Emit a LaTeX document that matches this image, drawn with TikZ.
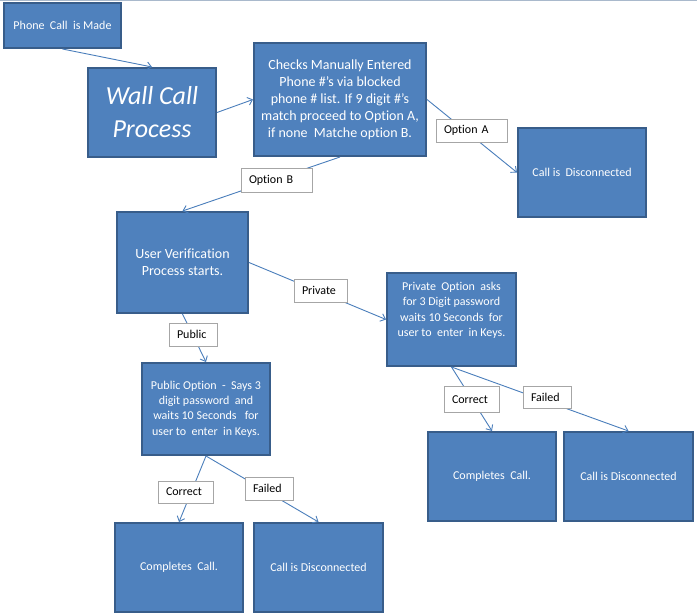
\documentclass[tikz,border=0pt]{standalone}
\usepackage{fontspec}
\setmainfont[Ligatures=NoCommon]{Carlito}
\usetikzlibrary{arrows.meta}
\definecolor{boxfill}{HTML}{4F81BD}
\definecolor{boxline}{HTML}{385D8A}
\definecolor{conn}{HTML}{4A7EBB}
\definecolor{lblline}{HTML}{A6A6A6}
\definecolor{topline}{HTML}{A9B9CC}
\newcommand{\wsp}{\hspace{0.45em}}
\tikzset{
  bluebox/.style={draw=boxline, line width=2pt, fill=boxfill, text=white,
    align=center, inner sep=2pt, font=\fontsize{12}{15.3}\selectfont},
  bigtext/.style={font=\fontsize{14}{17}\selectfont},
  lbl/.style={draw=lblline, line width=0.8pt, fill=white, text=black,
    align=left, inner xsep=8pt, inner ysep=0pt, font=\fontsize{12}{14}\selectfont},
  conn/.style={draw=conn, line width=0.9pt, -{Straight Barb[length=4.5pt,width=8pt]}}
}
\begin{document}
\begin{tikzpicture}[x=1pt,y=-1pt]
\useasboundingbox[fill=white] (0,0) rectangle (697,615);
\draw[topline, line width=1.5pt] (0,0.75) -- (697,0.75);
% boxes
\node[bluebox, minimum width=117pt, minimum height=45pt] (phone) at (62.5,25.5) {Phone\wsp Call\wsp is Made};
\node[bluebox, minimum width=128pt, minimum height=89pt, font=\fontsize{26}{33}\selectfont\itshape] (wall) at (152,112.5) {Wall Call\\Process};
\node[bluebox, bigtext, minimum width=172pt, minimum height=113pt] (checks) at (340,99.5) {Checks Manually Entered\\Phone \#'s via blocked\\phone \# list. If 9 digit \#'s\\match proceed to Option A,\\if none\wsp Matche option B.};
\node[bluebox, minimum width=128pt, minimum height=89pt] (disc1) at (582,172.5) {Call is\wsp Disconnected};
\node[bluebox, bigtext, minimum width=131pt, minimum height=101pt] (user) at (182.5,262.5) {User Verification\\Process starts.};
\node[bluebox, minimum width=129pt, minimum height=93pt] (priv) at (451.5,319.5) {Private\wsp Option\wsp asks\\for 3 Digit password\\waits 10 Seconds\wsp for\\user to\wsp enter\wsp in Keys.\\[5pt]};
\node[bluebox, minimum width=128pt, minimum height=92pt] (pub) at (206,409) {Public Option\wsp -\wsp Says 3\\digit password\wsp and\\waits 10 Seconds\ \ \ for\\user to\wsp enter\wsp in Keys.};
\node[bluebox, minimum width=128pt, minimum height=89pt] (comp1) at (179,567.5) {Completes\wsp Call.};
\node[bluebox, minimum width=129pt, minimum height=89pt] (disc2) at (318.5,567.5) {Call is Disconnected};
\node[bluebox, minimum width=128pt, minimum height=89pt] (comp2) at (492,476.5) {Completes\wsp Call.};
\node[bluebox, minimum width=129pt, minimum height=89pt] (disc3) at (628.5,476.5) {Call is Disconnected};
% connectors
\draw[conn] (phone.south) -- (wall.north);
\draw[conn] (wall.east) -- (checks.west);
\draw[conn] (checks.east) -- (disc1.west);
\draw[conn] (checks.south) -- (user.north);
\draw[conn] (user.east) -- (priv.west);
\draw[conn] (user.south) -- (pub.north);
\draw[conn] (pub.south) -- (comp1.north);
\draw[conn] (pub.south) -- (disc2.north);
\draw[conn] (priv.south) -- (comp2.north);
\draw[conn] (priv.south) -- (disc3.north);
% labels
\node[lbl, text width=55pt, minimum height=24pt] (optB) at (276.5,180) {Option B};
\node[lbl, text width=55pt, minimum height=23pt] (optA) at (471.5,130.5) {Option A};
\node[lbl, text width=37pt, minimum height=23pt] (lpriv) at (320.5,290.5) {Private};
\node[lbl, text width=32pt, minimum height=23pt] (lpub) at (193,334.5) {Public};
\node[lbl, text width=39pt, minimum height=22pt] (corr1) at (185.5,492) {Correct};
\node[lbl, text width=32pt, minimum height=23pt] (fail1) at (269,488.5) {Failed};
\node[lbl, text width=39pt, minimum height=26pt] (corr2) at (471.5,399.5) {Correct};
\node[lbl, text width=32pt, minimum height=22pt] (fail2) at (547,397) {Failed};
\end{tikzpicture}
\end{document}
